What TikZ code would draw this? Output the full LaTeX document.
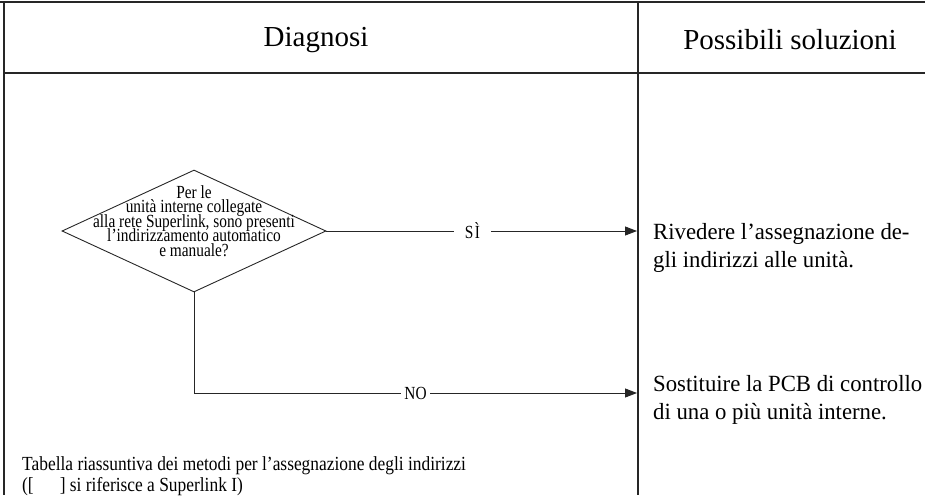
\documentclass[tikz,border=0pt]{standalone}
\usepackage{fontspec}
\setmainfont{Liberation Serif}
\newfontfamily\narrowserif[FakeStretch=0.83]{Liberation Serif}
\newfontfamily\notefont[FakeStretch=0.87]{Liberation Serif}
\newfontfamily\solfont[FakeStretch=0.98]{Liberation Serif}
\newcommand\tightlines{\lineskiplimit=-100pt\relax}
\usetikzlibrary{arrows.meta,shapes.geometric}

\tikzset{
  frame/.style={line width=1.2pt, draw=black!85},
  wire/.style={line width=0.9pt, draw=black!85},
  conn/.style={wire, -{Triangle[length=12pt,width=9pt]}},
  headtext/.style={font=\fontsize{29}{34}\selectfont, inner sep=0pt},
  soltext/.style={font={\solfont\fontsize{23.2}{27.5}\selectfont}, align=left, anchor=west, inner sep=0pt},
  asktext/.style={font={\narrowserif\fontsize{18.5}{14.6}\selectfont\tightlines},
                  align=center, inner sep=0pt},
  flowlabel/.style={fill=white, inner ysep=1pt, font={\narrowserif\fontsize{18.5}{20}\selectfont}},
  notetext/.style={font={\notefont\fontsize{20}{20.5}\selectfont\tightlines},
                   align=left, anchor=west, inner sep=0pt},
  choice/.style={diamond, draw=black!85, line width=0.9pt, minimum width=264pt,
                 minimum height=122pt, inner sep=0pt}
}

\begin{document}
\begin{tikzpicture}[x=1pt, y=-1pt]
  \useasboundingbox (0,0) rectangle (925,495);

  % table frame
  \draw[frame] (0,2) -- (925,2);
  \draw[frame] (4,2) -- (4,495);
  \draw[frame] (638,2) -- (638,495);
  \draw[frame] (4,73) -- (925,73);

  % column headings
  \node[headtext] (hdiag) at (316,40) {Diagnosi};
  \node[headtext] (hsol)  at (790,40) {Possibili soluzioni};

  % decision
  \node[choice] (q) at (194,231) {};
  \node[asktext] (qtxt) at (194,221) {Per le\\unità interne collegate\\alla rete Superlink, sono presenti\\l’indirizzamento automatico\\e manuale?};

  % solutions
  \node[soltext] (s1) at (653,248) {Rivedere l’assegnazione de-\\gli indirizzi alle unità.};
  \node[soltext] (s2) at (653,400) {Sostituire la PCB di controllo\\di una o più unità interne.};

  % arrow end points on the divider
  \coordinate (t1) at (637,231);
  \coordinate (bend) at (194,393);
  \coordinate (t2) at (637,393);

  % connectors
  \draw[conn] (q.east) -- node[flowlabel, inner xsep=11pt, pos=0.47] (yes) {S\kern1.5ptÌ} (t1);
  \draw[conn] (q.south) -- (bend) -- node[flowlabel, inner xsep=3pt, pos=0.5] (no) {NO} (t2);

  % footnote
  \node[notetext] (note) at (22,476) {Tabella riassuntiva dei metodi per l’assegnazione degli indirizzi\\([\hspace{1.3em}] si riferisce a Superlink I)};
\end{tikzpicture}
\end{document}
